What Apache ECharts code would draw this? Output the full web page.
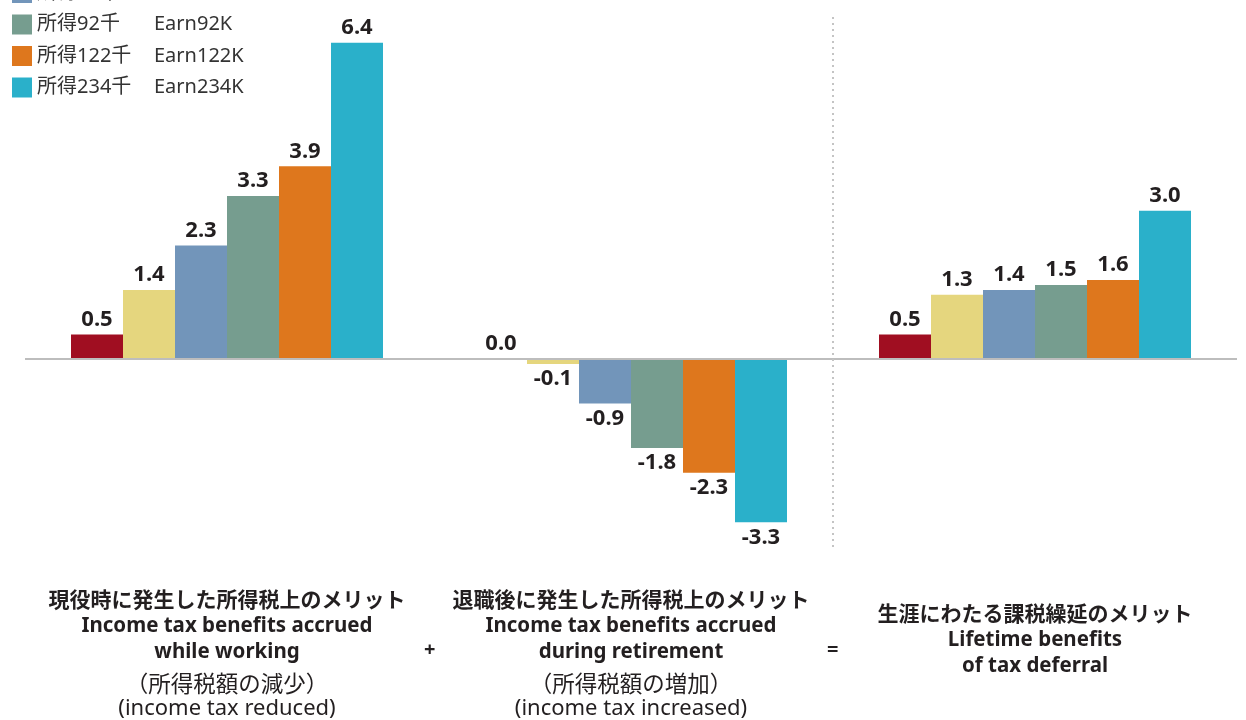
<!DOCTYPE html>
<html>
<head>
<meta charset="utf-8">
<script src="https://cdn.jsdelivr.net/npm/echarts@6/dist/echarts.min.js"></script>
<style>
  html, body { margin: 0; padding: 0; background: #fff; }
  #chart { width: 1246px; height: 720px; }
</style>
</head>
<body>
<div id="chart"></div>
<script>
// categories (JP bold title, EN bold lines, JP note, EN note)
const catJp = ['現役時に発生した所得税上のメリット', '退職後に発生した所得税上のメリット', '生涯にわたる課税繰延のメリット'];
const catEn = [
  ['Income tax benefits accrued', 'while working'],
  ['Income tax benefits accrued', 'during retirement'],
  ['Lifetime benefits', 'of tax deferral']
];
const catNoteJp = ['（所得税額の減少）', '（所得税額の増加）', ''];
const catNoteEn = ['(income tax reduced)', '(income tax increased)', ''];

// income levels (legend)
const levelJp = ['所得31千', '所得46千', '所得61千', '所得92千', '所得122千', '所得234千'];
const levelEn = ['Earn31K', 'Earn46K', 'Earn61K', 'Earn92K', 'Earn122K', 'Earn234K'];
const colors = ['#A00E21', '#E5D67E', '#7295BA', '#769D8F', '#DE771D', '#2AB0CA'];

// values per income level across the three categories
const earn31 = [0.5, 0.0, 0.5];
const earn46 = [1.4, -0.1, 1.3];
const earn61 = [2.3, -0.9, 1.4];
const earn92 = [3.3, -1.8, 1.5];
const earn122 = [3.9, -2.3, 1.6];
const earn234 = [6.4, -3.3, 3.0];
const values = [earn31, earn46, earn61, earn92, earn122, earn234];

const FONT = "'Noto Sans', 'Noto Sans CJK JP', sans-serif";
const JPFONT = "'Noto Sans CJK JP', sans-serif";
const chart = echarts.init(document.getElementById('chart'));

const series = values.map((vals, i) => ({
  name: levelJp[i] + '|' + levelEn[i],
  type: 'bar',
  barWidth: 52,
  barGap: '0%',
  itemStyle: { color: colors[i] },
  label: {
    show: true,
    fontFamily: FONT,
    fontSize: 22,
    fontWeight: 'bold',
    color: '#231f20',
    distance: 4,
    formatter: p => p.value.toFixed(1)
  },
  data: vals.map(v => ({ value: v, label: { position: v < 0 ? 'bottom' : 'top' } })),
  markLine: i === 0 ? {
    silent: true,
    symbol: 'none',
    label: { show: false },
    lineStyle: { color: '#bdbdbd', width: 2, type: 'solid' },
    data: [{ yAxis: 0 }]
  } : undefined,
  z: 3
}));

// divider between the second and third groups (category boundary on a hidden value axis)
series.push({
  type: 'scatter',
  xAxisIndex: 1,
  data: [],
  markLine: {
    silent: true,
    symbol: 'none',
    label: { show: false },
    lineStyle: { color: '#c4c4c4', width: 2, type: [2, 4] },
    data: [{ xAxis: 2 }]
  }
});

chart.setOption({
  animation: false,
  backgroundColor: '#fff',
  grid: { left: 25, right: 9, top: 13, bottom: 173 },
  legend: {
    orient: 'vertical',
    left: 12,
    top: -80,
    padding: 0,
    itemWidth: 20,
    itemHeight: 20,
    itemGap: 11.5,
    icon: 'rect',
    selectedMode: false,
    data: series.slice(0, 6).map(s => s.name),
    formatter: name => {
      const [a, b] = name.split('|');
      return '{a|' + a + '}{b|' + b + '}';
    },
    textStyle: {
      fontFamily: FONT,
      fontSize: 20,
      color: '#333',
      lineHeight: 20,
      rich: {
        a: { width: 117, fontSize: 20, fontFamily: FONT, color: '#333', lineHeight: 20 },
        b: { fontSize: 20, fontFamily: FONT, color: '#333', lineHeight: 20 }
      }
    }
  },
  xAxis: [{
    type: 'category',
    data: catJp,
    axisLine: { show: false, onZero: false },
    axisTick: { show: false },
    splitLine: { show: false },
    axisLabel: {
      interval: 0,
      margin: 38,
      color: '#231f20',
      fontFamily: FONT,
      formatter: (val, idx) => {
        const lines = [];
        if (!catNoteJp[idx]) lines.push('{sp| }');
        lines.push('{jp|' + catJp[idx] + '}');
        catEn[idx].forEach(l => lines.push('{en|' + l + '}'));
        if (catNoteJp[idx]) {
          lines.push('{gap| }');
          lines.push('{jr|' + catNoteJp[idx] + '}');
          lines.push('{er|' + catNoteEn[idx] + '}');
        }
        return lines.join('\n');
      },
      rich: {
        sp: { fontSize: 10, lineHeight: 14 },
        gap: { fontSize: 6, lineHeight: 6 },
        jp: { fontFamily: JPFONT, fontWeight: 'bold', fontSize: 21, lineHeight: 28, color: '#231f20' },
        en: { fontFamily: FONT, fontWeight: 'bold', fontSize: 20.5, lineHeight: 26, color: '#231f20' },
        jr: { fontFamily: JPFONT, fontSize: 22.5, lineHeight: 25, color: '#231f20' },
        er: { fontFamily: FONT, fontSize: 22, lineHeight: 25, color: '#231f20' }
      }
    }
  }, {
    type: 'value',
    min: 0,
    max: 3,
    show: false
  }],
  yAxis: {
    type: 'value',
    min: -3.8,
    max: 7,
    show: false,
    splitLine: { show: false }
  },
  graphic: [
    { type: 'text', left: 424, top: 640, style: { text: '+', font: 'bold 20px ' + FONT, fill: '#231f20' } },
    { type: 'text', left: 827, top: 640, style: { text: '=', font: 'bold 20px ' + FONT, fill: '#231f20' } }
  ],
  series: series
});
</script>
</body>
</html>
